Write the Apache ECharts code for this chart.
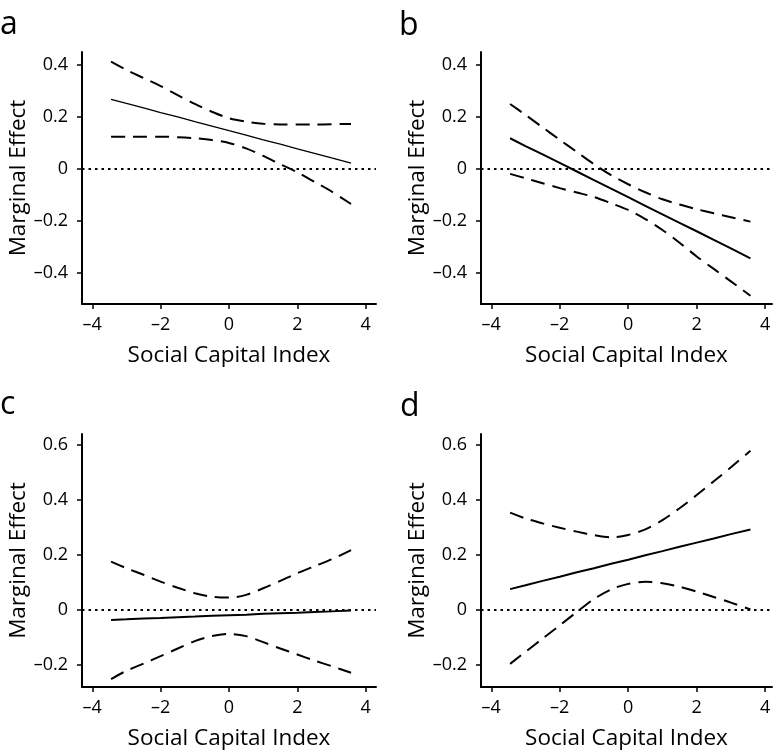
<!DOCTYPE html>
<html>
<head>
<meta charset="utf-8">
<script src="https://cdn.jsdelivr.net/npm/echarts@6/dist/echarts.min.js"></script>
<style>
html,body{margin:0;padding:0;background:#fff;}
#chart{width:777px;height:752px;}
</style>
</head>
<body>
<div id="chart"></div>
<script>
// ---- data ----
const xTicks = [-4, -2, 0, 2, 4];
const yTicksAB = [-0.4, -0.2, 0, 0.2, 0.4];
const yTicksCD = [-0.2, 0, 0.2, 0.4, 0.6];
const panelLetters = ['a', 'b', 'c', 'd'];
const xName = 'Social Capital Index';
const yName = 'Marginal Effect';

const xs = [-3.45, -3, -2.5, -2, -1.5, -1, -0.5, 0, 0.5, 1, 1.5, 2, 2.5, 3, 3.57];

const aEst = [0.268, 0.252, 0.235, 0.217, 0.200, 0.182, 0.165, 0.147, 0.130, 0.112, 0.095, 0.077, 0.060, 0.042, 0.022];
const aUp  = [0.413, 0.381, 0.350, 0.319, 0.284, 0.250, 0.220, 0.195, 0.182, 0.174, 0.171, 0.171, 0.171, 0.172, 0.173];
const aLo  = [0.124, 0.124, 0.124, 0.124, 0.122, 0.118, 0.111, 0.100, 0.079, 0.050, 0.018, -0.013, -0.050, -0.087, -0.135];

const bEst = [0.118, 0.088, 0.056, 0.023, -0.010, -0.043, -0.076, -0.109, -0.142, -0.175, -0.208, -0.240, -0.273, -0.306, -0.344];
const bUp  = [0.250, 0.208, 0.160, 0.112, 0.065, 0.018, -0.024, -0.059, -0.090, -0.117, -0.137, -0.155, -0.171, -0.186, -0.203];
const bLo  = [-0.019, -0.036, -0.055, -0.074, -0.091, -0.108, -0.132, -0.158, -0.193, -0.235, -0.284, -0.337, -0.385, -0.433, -0.488];

const cEst = [-0.036, -0.034, -0.031, -0.029, -0.026, -0.024, -0.021, -0.019, -0.017, -0.014, -0.012, -0.010, -0.007, -0.005, -0.002];
const cUp  = [0.176, 0.152, 0.128, 0.103, 0.081, 0.061, 0.048, 0.045, 0.055, 0.079, 0.106, 0.134, 0.159, 0.184, 0.218];
const cLo  = [-0.251, -0.221, -0.195, -0.168, -0.140, -0.113, -0.095, -0.087, -0.095, -0.117, -0.140, -0.162, -0.184, -0.204, -0.228];

const dEst = [0.076, 0.090, 0.106, 0.121, 0.137, 0.152, 0.168, 0.183, 0.199, 0.214, 0.230, 0.245, 0.260, 0.276, 0.293];
const dUp  = [0.354, 0.333, 0.315, 0.299, 0.285, 0.272, 0.264, 0.273, 0.293, 0.327, 0.370, 0.418, 0.468, 0.519, 0.579];
const dLo  = [-0.196, -0.152, -0.104, -0.056, -0.007, 0.040, 0.075, 0.095, 0.103, 0.097, 0.085, 0.067, 0.047, 0.027, 0.002];

// ---- layout ----
const FONT = 'Open Sans';
const grids = [
  {left: 82,  top: 52,  width: 294, height: 252},
  {left: 481, top: 52,  width: 291, height: 252},
  {left: 82,  top: 434, width: 294, height: 253},
  {left: 481, top: 434, width: 291, height: 253}
];
const xRanges = [[-4.3, 4.3], [-4.3, 4.2], [-4.3, 4.3], [-4.3, 4.2]];
const yRanges = [[-0.52, 0.45], [-0.52, 0.45], [-0.28, 0.64], [-0.28, 0.64]];
const yTickSets = [yTicksAB, yTicksAB, yTicksCD, yTicksCD];
const panels = [[aEst, aUp, aLo], [bEst, bUp, bLo], [cEst, cUp, cLo], [dEst, dUp, dLo]];
const estWidths = [1.3, 2, 2, 2];

const fmtMinus = v => (v < 0 ? '\u2013' : '') + Math.abs(v);
const fmtY = v => v === 0 ? '0' : (v < 0 ? '\u2013' : '') + Math.abs(v).toFixed(1);
const pair = arr => xs.map((x, i) => [x, arr[i]]);

const xAxis = [], yAxis = [], series = [], graphic = [];
grids.forEach((g, i) => {
  xAxis.push({
    type: 'value', gridIndex: i, min: xRanges[i][0], max: xRanges[i][1],
    name: xName, nameLocation: 'middle', nameGap: 40,
    nameTextStyle: {fontFamily: FONT, fontSize: 22.5, color: '#000'},
    axisLine: {show: true, onZero: false, lineStyle: {color: '#000', width: 2}},
    axisTick: {show: true, length: 5, customValues: xTicks, lineStyle: {color: '#000', width: 1.5}},
    axisLabel: {customValues: xTicks, formatter: fmtMinus, margin: 12, fontFamily: FONT, fontSize: 18, color: '#000'},
    splitLine: {show: false}
  });
  yAxis.push({
    type: 'value', gridIndex: i, min: yRanges[i][0], max: yRanges[i][1],
    name: yName, nameLocation: 'middle', nameGap: 46,
    nameTextStyle: {fontFamily: FONT, fontSize: 22.5, color: '#000'},
    axisLine: {show: true, onZero: false, lineStyle: {color: '#000', width: 2}},
    axisTick: {show: true, length: 5, customValues: yTickSets[i], lineStyle: {color: '#000', width: 1.5}},
    axisLabel: {customValues: yTickSets[i], formatter: fmtY, margin: 14, fontFamily: FONT, fontSize: 18, color: '#000'},
    splitLine: {show: false}
  });
  const [est, up, lo] = panels[i];
  series.push({
    type: 'line', xAxisIndex: i, yAxisIndex: i, data: pair(est), showSymbol: false, smooth: false,
    lineStyle: {color: '#000', width: estWidths[i]}, z: 3,
    markLine: {silent: true, symbol: 'none', label: {show: false},
      lineStyle: {color: '#000', width: 2, type: [2.5, 4]}, data: [{yAxis: 0}]}
  });
  series.push({
    type: 'line', xAxisIndex: i, yAxisIndex: i, data: pair(up), showSymbol: false, smooth: 0.3,
    lineStyle: {color: '#000', width: 2, type: [14, 8]}
  });
  series.push({
    type: 'line', xAxisIndex: i, yAxisIndex: i, data: pair(lo), showSymbol: false, smooth: 0.3,
    lineStyle: {color: '#000', width: 2, type: [14, 8]}
  });
});

const letterPos = [[0, 9], [399, 10], [0, 389], [400, 391]];
panelLetters.forEach((t, i) => {
  graphic.push({
    type: 'text', left: letterPos[i][0], top: letterPos[i][1],
    style: {text: t, font: '32px "' + FONT + '"', fill: '#000'}
  });
});

const chart = echarts.init(document.getElementById('chart'), null, {renderer: 'canvas'});
chart.setOption({
  animation: false,
  backgroundColor: '#fff',
  grid: grids,
  xAxis, yAxis, series, graphic
});
</script>
</body>
</html>
